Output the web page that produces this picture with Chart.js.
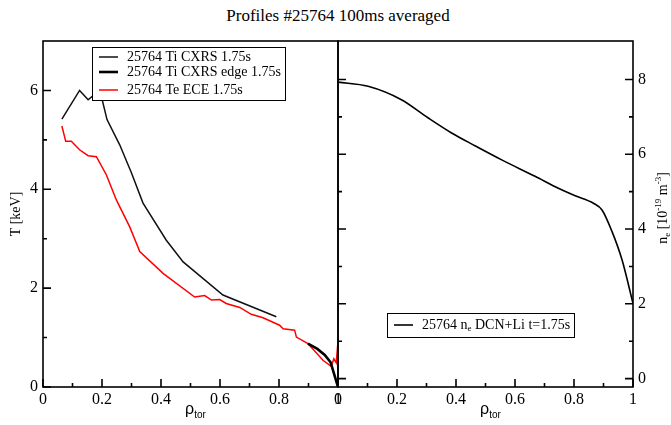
<!DOCTYPE html>
<html>
<head>
<meta charset="utf-8">
<script src="https://cdn.jsdelivr.net/npm/chart.js@4.4.1/dist/chart.umd.min.js"></script>
<style>
  body { margin: 0; background: #fff; width: 671px; height: 425px; overflow: hidden; position: relative; }
  #title { position: absolute; top: 6px; left: 0; width: 676px; text-align: center; font: 17px "Liberation Serif"; color: #000; }
  #left { position: absolute; left: 0; top: 0; }
  #right { position: absolute; left: 320px; top: 0; }
</style>
</head>
<body>
<div id="title">Profiles #25764 100ms averaged</div>
<canvas id="left" width="360" height="425"></canvas>
<canvas id="right" width="351" height="425"></canvas>
<script>
// values
const tiRho = [0.064, 0.124, 0.153, 0.175, 0.199, 0.217, 0.26, 0.30, 0.339, 0.418, 0.475, 0.61, 0.791];
const tiT = [5.42, 6.0, 5.81, 5.92, 5.85, 5.41, 4.90, 4.33, 3.72, 2.97, 2.53, 1.86, 1.42];
const edgeRho = [0.898, 0.93, 0.955, 0.975, 1.0];
const edgeT = [0.88, 0.77, 0.65, 0.5, 0.0];
const teRho = [0.064, 0.077, 0.096, 0.124, 0.153, 0.181, 0.215, 0.249, 0.294, 0.328, 0.407, 0.514, 0.548,
  0.571, 0.599, 0.621, 0.667, 0.706, 0.746, 0.802, 0.814, 0.853, 0.859, 0.898, 0.949, 0.977, 0.986, 0.994, 0.999, 1.0];
const teT = [5.28, 4.97, 4.97, 4.80, 4.68, 4.66, 4.29, 3.78, 3.24, 2.74, 2.30, 1.82, 1.85,
  1.76, 1.77, 1.69, 1.61, 1.47, 1.40, 1.25, 1.18, 1.15, 1.01, 0.88, 0.54, 0.42, 0.57, 0.49, 0.85, 0.0];
const neRho = [0, 0.102, 0.215, 0.306, 0.385, 0.464, 0.555, 0.668, 0.747, 0.804, 0.866, 0.895, 0.929, 0.963, 1.0];
const neVal = [7.93, 7.82, 7.46, 6.97, 6.57, 6.23, 5.85, 5.41, 5.09, 4.89, 4.69, 4.51, 3.93, 3.17, 2.01];

const xMajor = [0, 0.2, 0.4, 0.6, 0.8, 1];
const xMinor = [0.1, 0.3, 0.5, 0.7, 0.9];
const tMajor = [0, 2, 4, 6];
const tMinor = [1, 3, 5];
const nMajor = [0, 2, 4, 6, 8];
const nMinor = [1, 3, 5, 7];

const SERIF = "'Liberation Serif', serif";
const SANS = "'Liberation Sans', sans-serif";
Chart.defaults.font.family = SERIF;
Chart.defaults.color = "#000";

const pts = (xs, ys) => xs.map((x, i) => ({ x, y: ys[i] }));

function fixSize(size) {
  return function (scale) {
    if (scale.isHorizontal()) scale.height = size;
    else scale.width = size;
    scale.paddingLeft = scale.paddingRight = scale.paddingTop = scale.paddingBottom = 0;
  };
}

function rich(ctx, x, y, parts) {
  for (const p of parts) {
    ctx.font = p.s + "px " + (p.f || SERIF);
    ctx.fillText(p.t, x, y + (p.dy || 0));
    x += ctx.measureText(p.t).width;
  }
}
function richWidth(ctx, parts) {
  let w = 0;
  for (const p of parts) {
    ctx.font = p.s + "px " + (p.f || SERIF);
    w += ctx.measureText(p.t).width;
  }
  return w;
}

// frame, inward ticks, axis titles and legend box
const deco = {
  id: "deco",
  afterDraw(chart, args, o) {
    const { ctx, chartArea: a, scales } = chart;
    const xs = scales.x, ys = scales.y;
    ctx.save();
    ctx.strokeStyle = "#000";
    ctx.fillStyle = "#000";
    ctx.lineWidth = 1.6;
    ctx.strokeRect(a.left, a.top, a.right - a.left, a.bottom - a.top);

    ctx.beginPath();
    xMajor.forEach((v) => { const p = xs.getPixelForValue(v); ctx.moveTo(p, a.bottom); ctx.lineTo(p, a.bottom - 8); });
    xMinor.forEach((v) => { const p = xs.getPixelForValue(v); ctx.moveTo(p, a.bottom); ctx.lineTo(p, a.bottom - 4); });
    o.yMajor.forEach((v) => {
      const p = ys.getPixelForValue(v);
      o.ySides.forEach((side) => {
        const x0 = side === "left" ? a.left : a.right;
        const d = side === "left" ? 8 : -8;
        ctx.moveTo(x0, p); ctx.lineTo(x0 + d, p);
      });
    });
    o.yMinor.forEach((v) => {
      const p = ys.getPixelForValue(v);
      o.ySides.forEach((side) => {
        const x0 = side === "left" ? a.left : a.right;
        const d = side === "left" ? 4 : -4;
        ctx.moveTo(x0, p); ctx.lineTo(x0 + d, p);
      });
    });
    ctx.stroke();

    // x title: rho_tor
    ctx.textBaseline = "alphabetic";
    const rho = [{ t: "\u03c1", s: 16, f: SANS }, { t: "tor", s: 10, f: SANS, dy: 4 }];
    const xc = (a.left + a.right) / 2 + 5;
    rich(ctx, xc - richWidth(ctx, rho) / 2, 414, rho);

    // y title
    ctx.save();
    ctx.translate(o.yTitle.x, o.yTitle.y);
    ctx.rotate(-Math.PI / 2);
    rich(ctx, -richWidth(ctx, o.yTitle.parts) / 2, 0, o.yTitle.parts);
    ctx.restore();

    // legend
    const L = o.legend;
    const bx = a.left + L.dx, by = a.top + L.dy;
    ctx.fillStyle = "#fff";
    ctx.fillRect(bx, by, L.w, L.h);
    ctx.lineWidth = 1;
    ctx.strokeStyle = "#000";
    ctx.strokeRect(bx + 0.5, by + 0.5, L.w, L.h);
    ctx.textBaseline = "middle";
    L.rows.forEach((r) => {
      const ds = chart.data.datasets[r.ds];
      const y = by + r.y;
      ctx.beginPath();
      ctx.strokeStyle = ds.borderColor;
      ctx.lineWidth = ds.borderWidth;
      ctx.moveTo(bx + 7, y); ctx.lineTo(bx + 26, y);
      ctx.stroke();
      ctx.fillStyle = "#000";
      rich(ctx, bx + 35, y, r.parts);
    });
    ctx.restore();
  },
};

function axisX(size) {
  return {
    type: "linear", min: 0, max: 1,
    afterBuildTicks: (s) => { s.ticks = xMajor.map((v) => ({ value: v })); },
    afterFit: fixSize(size),
    grid: { display: false, drawTicks: false },
    border: { display: false },
    ticks: { autoSkip: false, maxRotation: 0, padding: 3, color: "#000", font: { family: SERIF, size: 16 }, callback: (v) => String(v) },
  };
}

new Chart(document.getElementById("left"), {
  type: "line",
  data: {
    datasets: [
      { label: "25764 Ti CXRS 1.75s", data: pts(tiRho, tiT), borderColor: "#111", borderWidth: 1.5, pointRadius: 0, tension: 0 },
      { label: "25764 Ti CXRS edge 1.75s", data: pts(edgeRho, edgeT), borderColor: "#000", borderWidth: 2.6, pointRadius: 0, tension: 0 },
      { label: "25764 Te ECE 1.75s", data: pts(teRho, teT), borderColor: "#ff0000", borderWidth: 1.5, pointRadius: 0, tension: 0 },
    ],
  },
  options: {
    responsive: false,
    animation: false,
    layout: { padding: { left: 0, top: 41, right: 22, bottom: 0 } },
    scales: {
      x: axisX(38),
      y: {
        type: "linear", position: "left", min: 0, max: 7,
        afterBuildTicks: (s) => { s.ticks = tMajor.map((v) => ({ value: v })); },
        afterFit: fixSize(43),
        grid: { display: false, drawTicks: false },
        border: { display: false },
        ticks: { padding: 5, color: "#000", font: { family: SERIF, size: 16 } },
      },
    },
    plugins: {
      legend: { display: false },
      tooltip: { enabled: false },
      deco: {
        yMajor: tMajor, yMinor: tMinor, ySides: ["left"],
        yTitle: { x: 20, y: 214, parts: [{ t: "T [keV]", s: 14 }] },
        legend: {
          dx: 49, dy: 6, w: 193, h: 53,
          rows: [
            { ds: 0, y: 10, parts: [{ t: "25764 Ti CXRS 1.75s", s: 14 }] },
            { ds: 1, y: 25, parts: [{ t: "25764 Ti CXRS edge 1.75s", s: 14 }] },
            { ds: 2, y: 43, parts: [{ t: "25764 Te ECE 1.75s", s: 14 }] },
          ],
        },
      },
    },
  },
  plugins: [deco],
});

new Chart(document.getElementById("right"), {
  type: "line",
  data: {
    datasets: [
      { label: "25764 ne DCN+Li t=1.75s", data: pts(neRho, neVal), borderColor: "#000", borderWidth: 1.6, pointRadius: 0, cubicInterpolationMode: "monotone" },
    ],
  },
  options: {
    responsive: false,
    animation: false,
    layout: { padding: { left: 18, top: 41, right: 0, bottom: 0 } },
    scales: {
      x: axisX(38),
      y: {
        type: "linear", position: "right", min: -0.225, max: 9.03,
        afterBuildTicks: (s) => { s.ticks = nMajor.map((v) => ({ value: v })); },
        afterFit: fixSize(38),
        grid: { display: false, drawTicks: false },
        border: { display: false },
        ticks: { padding: 5, color: "#000", font: { family: SERIF, size: 16 } },
      },
    },
    plugins: {
      legend: { display: false },
      tooltip: { enabled: false },
      deco: {
        yMajor: nMajor, yMinor: nMinor, ySides: ["left", "right"],
        yTitle: {
          x: 347, y: 208,
          parts: [
            { t: "n", s: 14 }, { t: "e", s: 9, dy: 3 }, { t: " [10", s: 14 }, { t: "-19", s: 9, dy: -6 },
            { t: " m", s: 14 }, { t: "-3", s: 9, dy: -6 }, { t: "]", s: 14 },
          ],
        },
        legend: {
          dx: 49, dy: 272, w: 187, h: 24,
          rows: [
            { ds: 0, y: 12, parts: [{ t: "25764 n", s: 14 }, { t: "e", s: 9, dy: 4 }, { t: " DCN+Li t=1.75s", s: 14 }] },
          ],
        },
      },
    },
  },
  plugins: [deco],
});
</script>
</body>
</html>
